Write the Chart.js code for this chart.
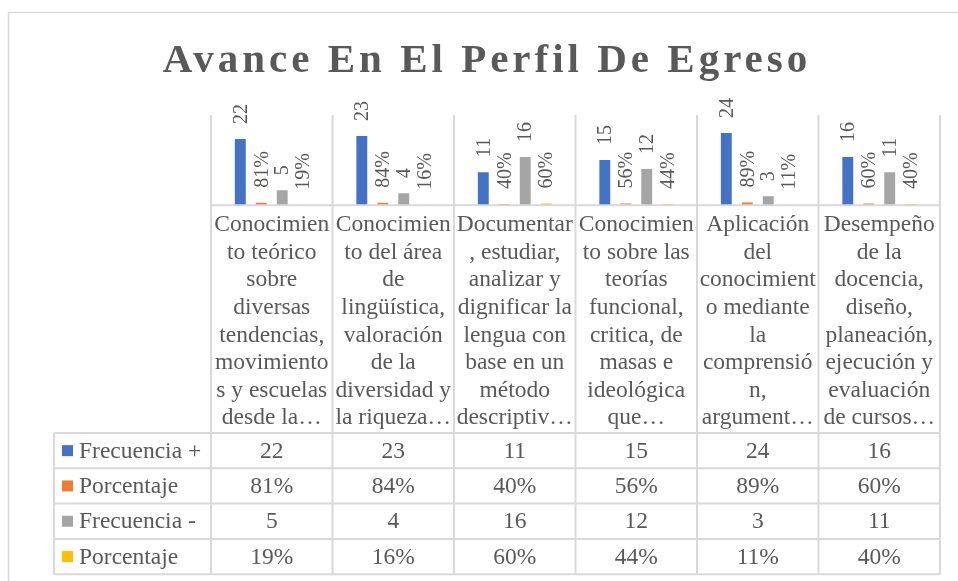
<!DOCTYPE html>
<html lang="es">
<head>
<meta charset="utf-8">
<title>Avance En El Perfil De Egreso</title>
<script src="https://cdn.jsdelivr.net/npm/chart.js@4.4.1/dist/chart.umd.min.js"></script>
<style>
  html, body { margin: 0; padding: 0; background: #fff; overflow: hidden; }
  #wrap { position: relative; width: 958px; height: 581px; }
</style>
</head>
<body>
<div id="wrap"><canvas id="perfilChart"></canvas></div>
<script>
// ---------- Data ----------
const TITLE = 'Avance En El Perfil De Egreso';

// category labels, wrapped the way the original cells show them
const CATEGORIES = [
  ['Conocimien', 'to teórico', 'sobre', 'diversas', 'tendencias,', 'movimiento', 's y escuelas', 'desde la…'],
  ['Conocimien', 'to del área', 'de', 'lingüística,', 'valoración', 'de la', 'diversidad y', 'la riqueza…'],
  ['Documentar', ', estudiar,', 'analizar y', 'dignificar la', 'lengua con', 'base en un', 'método', 'descriptiv…'],
  ['Conocimien', 'to sobre las', 'teorías', 'funcional,', 'critica, de', 'masas e', 'ideológica', 'que…'],
  ['Aplicación', 'del', 'conocimient', 'o mediante', 'la', 'comprensió', 'n,', 'argument…'],
  ['Desempeño', 'de la', 'docencia,', 'diseño,', 'planeación,', 'ejecución y', 'evaluación', 'de cursos…'],
];

const FREC_POS = [22, 23, 11, 15, 24, 16];
const PORC_POS = [0.81, 0.84, 0.40, 0.56, 0.89, 0.60];
const FREC_NEG = [5, 4, 16, 12, 3, 11];
const PORC_NEG = [0.19, 0.16, 0.60, 0.44, 0.11, 0.40];

const SERIES_NAMES  = ['Frecuencia +', 'Porcentaje', 'Frecuencia -', 'Porcentaje'];
const SERIES_VALUES = [FREC_POS, PORC_POS, FREC_NEG, PORC_NEG];
const SERIES_IS_PCT = [false, true, false, true];

const Y_MIN = 0;
const Y_MAX = 30;

// ---------- Style ----------
const COLORS     = ['#4472C4', '#ED7D31', '#A5A5A5', '#FFC000'];
const TEXT       = '#595959';
const LINE       = '#d9d9d9';
const SERIF      = '"Liberation Serif", "Times New Roman", serif';
const CELL_FONT  = 23.5;
const LABEL_LH   = 27.6;   // line height of the wrapped category labels
const LABEL_PAD  = 6;
const TABLE_LEFT = 54;
const ROW_H      = 35.3;

// ---------- Helpers ----------
function formatValue(v, pct) {
  return pct ? Math.round(v * 100) + '%' : String(v);
}

function hLine(ctx, x1, x2, y) {
  ctx.beginPath();
  ctx.moveTo(x1, y);
  ctx.lineTo(x2, y);
  ctx.stroke();
}

function vLine(ctx, x, y1, y2) {
  ctx.beginPath();
  ctx.moveTo(x, y1);
  ctx.lineTo(x, y2);
  ctx.stroke();
}

// ---------- Extras: frame, title, value labels, data table ----------
const perfilExtras = {
  id: 'perfilExtras',

  beforeDraw(chart) {
    const ctx = chart.ctx;
    ctx.save();
    ctx.strokeStyle = LINE;
    ctx.lineWidth = 1.5;
    ctx.strokeRect(8.5, 12.5, 1200, 1200);
    ctx.restore();
  },

  afterDatasetsDraw(chart) {
    const ctx = chart.ctx;
    ctx.save();
    ctx.fillStyle = TEXT;
    ctx.font = '20px ' + SERIF;
    ctx.textAlign = 'left';
    ctx.textBaseline = 'middle';
    chart.data.datasets.forEach((ds, i) => {
      const meta = chart.getDatasetMeta(i);
      meta.data.forEach((bar, j) => {
        ctx.save();
        ctx.translate(bar.x, bar.y - 15);
        ctx.rotate(-Math.PI / 2);
        ctx.fillText(formatValue(ds.data[j], SERIES_IS_PCT[i]), 0, 1);
        ctx.restore();
      });
    });
    ctx.restore();
  },

  afterDraw(chart) {
    const ctx = chart.ctx;
    const area = chart.chartArea;
    const x = chart.scales.x;
    const step = x.getPixelForValue(1) - x.getPixelForValue(0);
    const tableTop = x.bottom - 5;
    const tableBottom = tableTop + ROW_H * SERIES_NAMES.length;

    ctx.save();

    // title
    ctx.fillStyle = TEXT;
    ctx.font = 'bold 41px ' + SERIF;
    ctx.letterSpacing = '4px';
    ctx.textAlign = 'center';
    ctx.textBaseline = 'alphabetic';
    ctx.fillText(TITLE, 487, 72);
    ctx.letterSpacing = '0px';

    // grid lines
    ctx.strokeStyle = LINE;
    ctx.lineWidth = 2;
    for (let i = 0; i <= CATEGORIES.length; i++) {
      const bx = x.getPixelForValue(i) - step / 2;
      vLine(ctx, bx, area.top, tableBottom);
    }
    hLine(ctx, area.left, area.right, area.bottom);
    for (let r = 0; r <= SERIES_NAMES.length; r++) {
      hLine(ctx, TABLE_LEFT, area.right, tableTop + r * ROW_H);
    }
    vLine(ctx, TABLE_LEFT, tableTop, tableBottom);

    // table rows
    ctx.font = CELL_FONT + 'px ' + SERIF;
    ctx.textBaseline = 'middle';
    SERIES_NAMES.forEach((name, r) => {
      const cy = tableTop + r * ROW_H + ROW_H / 2;
      ctx.fillStyle = COLORS[r];
      ctx.fillRect(62, cy - 5.5, 11, 11);
      ctx.fillStyle = TEXT;
      ctx.textAlign = 'left';
      ctx.fillText(name, 79, cy + 1);
      ctx.textAlign = 'center';
      SERIES_VALUES[r].forEach((v, c) => {
        ctx.fillText(formatValue(v, SERIES_IS_PCT[r]), x.getPixelForValue(c), cy + 1);
      });
    });

    ctx.restore();
  },
};

// ---------- Chart ----------
const ctx = document.getElementById('perfilChart').getContext('2d');

new Chart(ctx, {
  type: 'bar',
  data: {
    labels: CATEGORIES,
    datasets: SERIES_NAMES.map((name, i) => ({
      label: name,
      data: SERIES_VALUES[i],
      backgroundColor: COLORS[i],
      borderWidth: 0,
      categoryPercentage: 0.69,
      barPercentage: 0.52,
    })),
  },
  options: {
    responsive: true,
    maintainAspectRatio: false,
    animation: false,
    layout: {
      padding: { left: 211, right: 18, top: 115, bottom: 143 },
    },
    plugins: {
      legend:  { display: false },
      title:   { display: false },
      tooltip: { enabled: false },
    },
    scales: {
      x: {
        grid:   { display: false, drawTicks: false },
        border: { display: false },
        ticks: {
          color: TEXT,
          font: { family: SERIF, size: CELL_FONT, lineHeight: LABEL_LH / CELL_FONT },
          padding: LABEL_PAD,
          maxRotation: 0,
          minRotation: 0,
          autoSkip: false,
        },
        // the wrapped labels need more room than the default half-height cap
        afterFit(scale) {
          scale.height = LABEL_LH * 8 + LABEL_PAD * 2;
        },
      },
      y: {
        display: false,
        min: Y_MIN,
        max: Y_MAX,
      },
    },
  },
  plugins: [perfilExtras],
});
</script>
</body>
</html>
